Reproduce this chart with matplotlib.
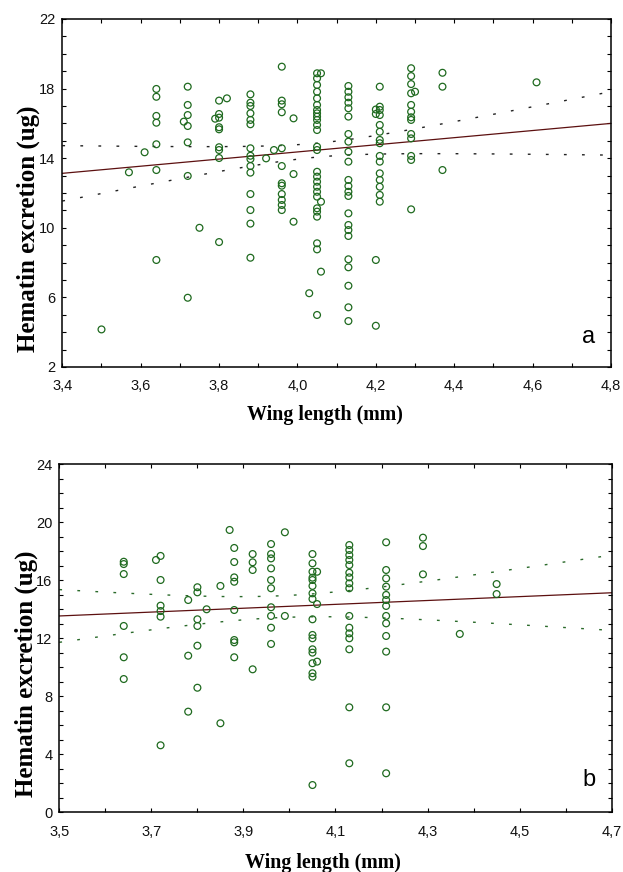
import numpy as np
import matplotlib
matplotlib.use("Agg")
import matplotlib.pyplot as plt
from matplotlib.ticker import MultipleLocator, FuncFormatter

# ---------------- data ----------------
# Panel a: wing-length columns and hematin values at each column
a_wing = [3.50, 3.57, 3.61, 3.64, 3.71, 3.72, 3.75, 3.79, 3.80, 3.82, 3.88,
          3.92, 3.94, 3.96, 3.99, 4.03, 4.05, 4.06, 4.13, 4.20, 4.21, 4.29,
          4.30, 4.37, 4.61]
a_hematin = [
    [4.16],
    [13.19],
    [14.34],
    [17.98, 17.53, 16.43, 16.04, 14.80, 13.32, 8.15],
    [16.10],
    [18.11, 17.06, 16.48, 15.85, 14.91, 12.98, 5.98],
    [10.00],
    [16.27],
    [17.31, 16.54, 16.33, 15.78, 15.66, 14.63, 14.47, 14.01, 9.18],
    [17.44],
    [17.67, 17.19, 17.00, 16.58, 16.20, 15.95, 14.57, 14.14, 13.95, 13.55,
     13.17, 11.94, 11.02, 10.24, 8.28],
    [13.99],
    [14.47],
    [19.26, 17.31, 17.10, 16.64, 14.57, 13.55, 12.56, 12.42, 11.94, 11.60,
     11.31, 11.02],
    [16.29, 13.09, 10.35],
    [6.24],
    [18.88, 18.59, 18.21, 17.82, 17.44, 17.06, 16.77, 16.58, 16.39, 16.20,
     15.91, 15.62, 14.66, 14.47, 13.22, 12.94, 12.65, 12.36, 12.07, 11.79,
     11.12, 10.93, 10.64, 9.11, 8.76, 4.99],
    [18.88, 11.50, 7.48],
    [18.15, 17.82, 17.50, 17.19, 16.87, 16.39, 15.39, 14.95, 14.37, 13.80,
     12.75, 12.40, 12.07, 11.83, 10.83, 10.16, 9.87, 9.53, 8.19, 7.73, 6.67,
     5.43, 4.64],
    [16.80, 16.54, 8.15, 4.37],
    [18.11, 16.96, 16.77, 16.48, 15.91, 15.52, 15.05, 14.86, 14.13, 13.80,
     13.13, 12.75, 12.36, 11.89, 11.50],
    [19.17, 18.72, 18.26, 17.73, 17.06, 16.67, 16.35, 16.20, 15.39, 15.14,
     14.13, 13.90, 11.06],
    [17.82],
    [18.91, 18.11, 13.32],
    [18.36],
]
# regression line read at the axis ends (x, y) and 95% band half-widths:
# (x at narrowest point, half-width there, spread coefficient)
a_fit_x = [3.4, 4.8]
a_fit_y = [13.13, 16.00]
a_band = (4.05, 0.40, 2.37)

# Panel b
b_wing = [3.64, 3.71, 3.72, 3.78, 3.80, 3.82, 3.85, 3.87, 3.88, 3.92, 3.96,
          3.99, 4.05, 4.06, 4.13, 4.21, 4.29, 4.37, 4.45]
b_hematin = [
    [17.26, 17.10, 16.41, 12.83, 10.67, 9.17],
    [17.38],
    [17.66, 16.00, 14.23, 13.86, 13.47, 4.60],
    [14.62, 10.78, 6.92],
    [15.50, 15.15, 13.29, 12.83, 11.47, 8.57],
    [13.98],
    [15.59, 6.12],
    [19.45],
    [18.21, 17.24, 16.18, 15.88, 13.93, 11.86, 11.70, 10.67],
    [17.79, 17.22, 16.69, 9.84],
    [18.48, 17.79, 17.49, 16.80, 16.00, 15.43, 14.12, 13.52, 12.71, 11.59],
    [19.29, 13.52],
    [17.79, 17.15, 16.57, 16.16, 16.00, 15.59, 15.08, 14.69, 13.29, 12.21,
     11.98, 11.22, 10.99, 10.26, 9.57, 9.33, 1.86],
    [16.57, 14.34, 10.37],
    [18.41, 18.07, 17.72, 17.38, 17.03, 16.50, 16.18, 15.77, 15.43, 13.52,
     12.71, 12.32, 11.98, 11.22, 7.22, 3.36],
    [18.60, 16.69, 16.11, 15.54, 14.97, 14.62, 14.21, 13.52, 13.01, 12.14,
     11.06, 7.22, 2.67],
    [18.92, 18.34, 16.39],
    [12.28],
    [15.72, 15.03],
]
b_fit_x = [3.5, 4.7]
b_fit_y = [13.52, 15.12]
b_band = (3.98, 0.75, 3.45)

a_xticks = [3.4, 3.6, 3.8, 4.0, 4.2, 4.4, 4.6, 4.8]
a_yticks = [2, 6, 10, 14, 18, 22]
b_xticks = [3.5, 3.7, 3.9, 4.1, 4.3, 4.5, 4.7]
b_yticks = [0, 4, 8, 12, 16, 20, 24]
x_label = "Wing length (mm)"
y_label = "Hematin excretion (ug)"

# ---------------- styling ----------------
W, H = 623, 872
DPI = 100
MARK = "#1f6a1f"
LINE = "#5c1010"
SANS = ["Liberation Sans", "DejaVu Sans"]
SERIF = ["Liberation Serif", "DejaVu Serif"]


def flatten(cols, vals):
    xs, ys = [], []
    for c, v in zip(cols, vals):
        xs.extend([c] * len(v))
        ys.extend(v)
    return np.array(xs), np.array(ys)


def comma(v, pos):
    return f"{v:.1f}".replace(".", ",")


def panel(fig, rect, cols, vals, fit_x, fit_y, band, xlim, ylim, xt, yt,
          letter, letter_pos, band_color):
    ax = fig.add_axes(rect)
    x, y = flatten(cols, vals)
    ax.scatter(x, y, s=24, facecolors="none", edgecolors=MARK,
               linewidths=0.9, zorder=3)
    # regression line and its confidence band (hyperbolic)
    slope = (fit_y[1] - fit_y[0]) / (fit_x[1] - fit_x[0])
    xx = np.linspace(fit_x[0], fit_x[1], 200)
    yy = fit_y[0] + slope * (xx - fit_x[0])
    x0, w0, k = band
    hw = np.sqrt(w0 ** 2 + (k * (xx - x0)) ** 2)
    ax.plot(xx, yy, color=LINE, lw=0.9, zorder=2)
    for sign in (1, -1):
        ax.plot(xx, yy + sign * hw, color=band_color, lw=1.0,
                dashes=(2, 11), zorder=2)
    ax.set_xlim(*xlim)
    ax.set_ylim(*ylim)
    ax.set_xticks(xt)
    ax.set_yticks(yt)
    ax.xaxis.set_minor_locator(MultipleLocator(0.1))
    ax.yaxis.set_minor_locator(MultipleLocator(1))
    ax.xaxis.set_major_formatter(FuncFormatter(comma))
    ax.tick_params(which="both", direction="in", top=True, right=True,
                   length=3, width=0.8, color="black")
    ax.tick_params(axis="x", which="major", pad=9, labelsize=10.5)
    ax.tick_params(axis="y", which="major", pad=5, labelsize=10.5)
    for lab in ax.get_xticklabels() + ax.get_yticklabels():
        lab.set_family(SANS)
        lab.set_color("#111111")
    for sp in ax.spines.values():
        sp.set_linewidth(1.1)
        sp.set_color("black")
    ax.text(letter_pos[0], letter_pos[1], letter, transform=ax.transAxes,
            ha="center", va="center", fontsize=17, family=SANS)
    return ax


fig = plt.figure(figsize=(W / DPI, H / DPI), dpi=DPI)

# top panel: px 62.3..611 , 19..367
panel(fig, [62.3 / W, 1 - 367 / H, (611 - 62.3) / W, (367 - 19) / H],
      a_wing, a_hematin, a_fit_x, a_fit_y, a_band,
      (3.4, 4.8), (2, 22), a_xticks, a_yticks, "a", (0.96, 0.085), "#222222")
# bottom panel: px 59.3..611.7 , 464..812
panel(fig, [59.3 / W, 1 - 812 / H, (611.7 - 59.3) / W, (812 - 464) / H],
      b_wing, b_hematin, b_fit_x, b_fit_y, b_band,
      (3.5, 4.7), (0, 24), b_xticks, b_yticks, "b", (0.959, 0.092), "#2a6a2a")

lab_kw = dict(family=SERIF, fontweight="bold", color="black")
fig.text(325 / W, 1 - 415 / H, x_label, ha="center", va="center",
         fontsize=14.4, **lab_kw)
fig.text(323 / W, 1 - 863 / H, x_label, ha="center", va="center",
         fontsize=14.4, **lab_kw)
fig.text(28 / W, 1 - 229 / H, y_label, ha="center", va="center",
         rotation=90, fontsize=18, **lab_kw)
fig.text(26 / W, 1 - 674 / H, y_label, ha="center", va="center",
         rotation=90, fontsize=18, **lab_kw)

fig.savefig("out.png", dpi=DPI)
